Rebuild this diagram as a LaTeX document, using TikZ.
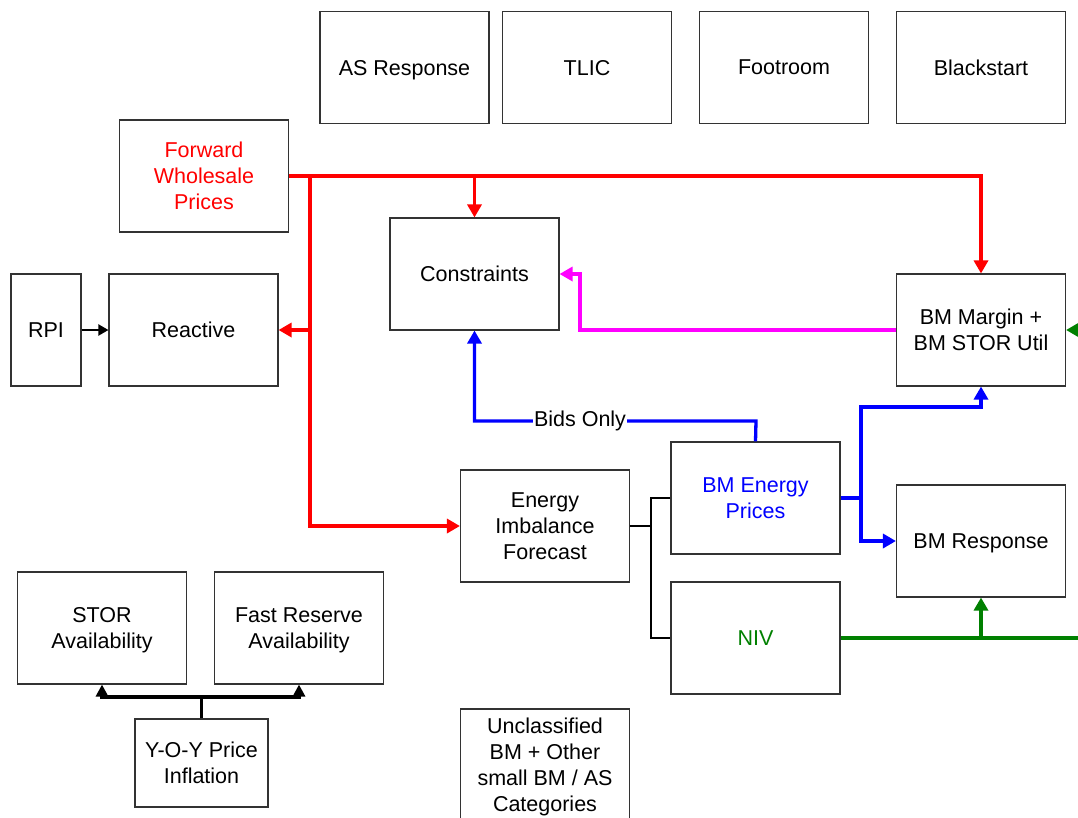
\documentclass[tikz,border=0pt]{standalone}
\usepackage{fontspec}
\setmainfont{Liberation Sans}
\usepackage{tikz}
\usetikzlibrary{arrows.meta}
\definecolor{nivgreen}{RGB}{0,128,0}
\definecolor{margmag}{RGB}{255,0,255}
\tikzset{blk/.style={draw=black!80, line width=1.1pt, minimum width=169pt, minimum height=112pt, align=center, inner sep=2pt, text depth=0pt},
  wire/.style={line width=3.3pt},
  tip/.style={-{Triangle[length=13pt,width=14pt]}}}

\begin{document}
\begin{tikzpicture}[x=1pt, y=-1pt, font=\fontsize{21.5}{26}\selectfont]
  \useasboundingbox (0,0) rectangle (1078,817);

  % ---------- top row ----------
  \node[blk] (asr)   at (404.5,67.5) {AS Response};
  \node[blk] (tlic)  at (587,67.5)   {TLIC};
  \node[blk] (foot)  at (784,67.5)   {Footroom};
  \node[blk] (black) at (981,67.5)   {Blackstart};

  % ---------- left side ----------
  \node[blk, text=red] (fwd) at (204,176) {Forward\\Wholesale\\Prices};
  \node[blk, minimum width=70pt] (rpi) at (46,330) {RPI};
  \node[blk] (react) at (193.5,330) {Reactive};
  \node[blk] (stor)  at (102,628) {STOR\\Availability};
  \node[blk] (fres)  at (299,628) {Fast Reserve\\Availability};
  \node[blk, minimum width=133pt, minimum height=88pt] (yoy) at (201.5,763) {Y-O-Y Price\\Inflation};

  % ---------- middle + right ----------
  \node[blk] (cons)  at (474.5,274) {Constraints};
  \node[blk] (bmm)   at (981,330)   {BM Margin +\\BM STOR Util};
  \node[blk] (eif)   at (545,526)   {Energy\\Imbalance\\Forecast};
  \node[blk, text=blue] (bmep) at (755.5,498) {BM Energy\\Prices};
  \node[blk, text=nivgreen] (niv) at (755.5,638) {NIV};
  \node[blk] (bmr)   at (981,541)   {BM Response};
  \node[blk] (uncl)  at (545,765)   {Unclassified\\BM + Other\\small BM / AS\\Categories};

  % ---------- forward prices (red) ----------
  \coordinate (rj) at (310,176);
  \draw[wire, red, tip] (fwd.east) -| (bmm.north);
  \draw[wire, red, tip] (fwd.east -| cons.north) -- (cons.north);
  \draw[wire, red, tip] (rj) |- (eif.west);
  \draw[wire, red, tip] (rj |- react.east) -- (react.east);

  % RPI -> Reactive
  \draw[line width=2pt, -{Triangle[length=10pt,width=11pt]}] (rpi) -- (react);

  % ---------- margin -> constraints (magenta) ----------
  \coordinate (mg) at (580,330);
  \draw[wire, margmag, tip] (bmm.west) -- (mg) |- (cons.east);

  % ---------- BM energy prices (blue) ----------
  \coordinate (bo) at (756,421);
  \draw[wire, blue, tip] (bmep.north) -- (bo) -| (cons.south);
  \node[fill=white, inner sep=1pt] (bids) at (580,421) {Bids Only};
  \coordinate (bj) at (861,498);
  \draw[wire, blue, tip] (bmep.east) -- (bj) |- (bmr.west);
  \draw[wire, blue, tip] (bj) |- (bmm.south |- 0,407) -- (bmm.south);

  % ---------- NIV (green) ----------
  \coordinate (gr) at (1078,638);
  \coordinate (gin) at (1078,330);
  \draw[wire, nivgreen] (niv.east) -- (gr);
  \draw[wire, nivgreen, tip] (niv.east -| bmr.south) -- (bmr.south);
  \draw[wire, nivgreen, tip] (gin) -- (bmm.east);

  % imbalance forecast -> prices / NIV
  \coordinate (tj) at (651,526);
  \draw[line width=1.1pt] (eif.east) -- (tj);
  \draw[line width=1.1pt] (bmep.west) -| (tj) |- (niv.west);

  % ---------- inflation -> availability ----------
  \coordinate (yj) at (201.5,697);
  \draw[wire] (yoy.north) -- (yj);
  \draw[wire, -{Triangle[length=12pt,width=12pt]}] (yj) -| (stor.south);
  \draw[wire, -{Triangle[length=12pt,width=12pt]}] (yj) -| (fres.south);

\end{tikzpicture}
\end{document}
